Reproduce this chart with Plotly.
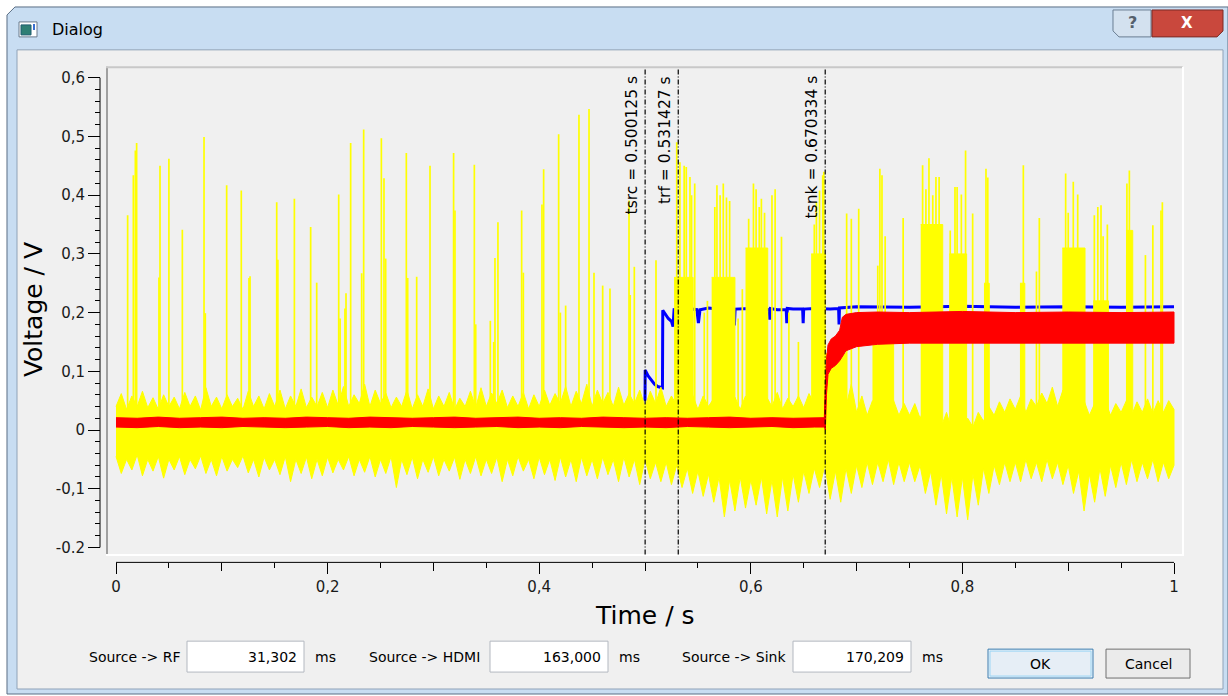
import plotly.graph_objects as go

W, H = 1228, 696
FONT = "DejaVu Sans"

# ---------------- data ----------------
x_tick_vals = [0.0, 0.2, 0.4, 0.6, 0.8, 1.0]
x_tick_text = ["0", "0,2", "0,4", "0,6", "0,8", "1"]
x_mid_vals = [0.1, 0.3, 0.5, 0.7, 0.9]
y_tick_vals = [0.6, 0.5, 0.4, 0.3, 0.2, 0.1, 0.0, -0.1, -0.2]
y_tick_text = ["0,6", "0,5", "0,4", "0,3", "0,2", "0,1", "0", "-0,1", "-0.2"]

marker_labels = ["tsrc = 0.500125 s", "trf = 0.531427 s", "tsnk = 0.670334 s"]
marker_times = [0.500125, 0.531427, 0.670334]

# yellow (RF) signal: envelope of the dense noise band, read every 5 ms
band_x = [0.000, 0.005, 0.010, 0.015, 0.020, 0.025, 0.030, 0.035, 0.040, 0.045,
          0.050, 0.055, 0.060, 0.065, 0.070, 0.075, 0.080, 0.085, 0.090, 0.095,
          0.100, 0.105, 0.110, 0.115, 0.120, 0.125, 0.130, 0.135, 0.140, 0.145,
          0.150, 0.155, 0.160, 0.165, 0.170, 0.175, 0.180, 0.185, 0.190, 0.195,
          0.200, 0.205, 0.210, 0.215, 0.220, 0.225, 0.230, 0.235, 0.240, 0.245,
          0.250, 0.255, 0.260, 0.265, 0.270, 0.275, 0.280, 0.285, 0.290, 0.295,
          0.300, 0.305, 0.310, 0.315, 0.320, 0.325, 0.330, 0.335, 0.340, 0.345,
          0.350, 0.355, 0.360, 0.365, 0.370, 0.375, 0.380, 0.385, 0.390, 0.395,
          0.400, 0.405, 0.410, 0.415, 0.420, 0.425, 0.430, 0.435, 0.440, 0.445,
          0.450, 0.455, 0.460, 0.465, 0.470, 0.475, 0.480, 0.485, 0.490, 0.495,
          0.500, 0.505, 0.510, 0.515, 0.520, 0.525, 0.530, 0.535, 0.540, 0.545,
          0.550, 0.555, 0.560, 0.565, 0.570, 0.575, 0.580, 0.585, 0.590, 0.595,
          0.600, 0.605, 0.610, 0.615, 0.620, 0.625, 0.630, 0.635, 0.640, 0.645,
          0.650, 0.655, 0.660, 0.665, 0.670, 0.675, 0.680, 0.685, 0.690, 0.695,
          0.700, 0.705, 0.710, 0.715, 0.720, 0.725, 0.730, 0.735, 0.740, 0.745,
          0.750, 0.755, 0.760, 0.765, 0.770, 0.775, 0.780, 0.785, 0.790, 0.795,
          0.800, 0.805, 0.810, 0.815, 0.820, 0.825, 0.830, 0.835, 0.840, 0.845,
          0.850, 0.855, 0.860, 0.865, 0.870, 0.875, 0.880, 0.885, 0.890, 0.895,
          0.900, 0.905, 0.910, 0.915, 0.920, 0.925, 0.930, 0.935, 0.940, 0.945,
          0.950, 0.955, 0.960, 0.965, 0.970, 0.975, 0.980, 0.985, 0.990, 0.995,
          1.000]
band_hi = [0.040, 0.062, 0.035, 0.058, 0.040, 0.066, 0.038, 0.055, 0.035, 0.060,
           0.040, 0.056, 0.036, 0.064, 0.040, 0.058, 0.034, 0.072, 0.040, 0.056,
           0.036, 0.060, 0.040, 0.054, 0.035, 0.066, 0.040, 0.058, 0.036, 0.062,
           0.040, 0.068, 0.036, 0.058, 0.040, 0.070, 0.038, 0.056, 0.040, 0.064,
           0.038, 0.068, 0.042, 0.074, 0.040, 0.060, 0.045, 0.078, 0.040, 0.068,
           0.045, 0.063, 0.038, 0.056, 0.040, 0.068, 0.036, 0.060, 0.040, 0.070,
           0.036, 0.058, 0.040, 0.064, 0.035, 0.054, 0.040, 0.066, 0.038, 0.072,
           0.040, 0.063, 0.045, 0.068, 0.038, 0.058, 0.040, 0.064, 0.036, 0.060,
           0.040, 0.068, 0.042, 0.062, 0.045, 0.074, 0.040, 0.066, 0.045, 0.078,
           0.040, 0.068, 0.045, 0.064, 0.040, 0.073, 0.042, 0.062, 0.045, 0.068,
           0.040, 0.066, 0.045, 0.073, 0.040, 0.058, 0.042, 0.068, 0.040, 0.060,
           0.035, 0.058, 0.040, 0.054, 0.035, 0.060, 0.038, 0.056, 0.035, 0.058,
           0.040, 0.060, 0.036, 0.056, 0.040, 0.064, 0.036, 0.054, 0.040, 0.058,
           0.038, 0.062, 0.045, 0.073, 0.050, 0.120, 0.060, 0.100, 0.040, 0.078,
           0.030, 0.058, 0.025, 0.050, 0.030, 0.053, 0.028, 0.050, 0.025, 0.045,
           0.025, 0.045, 0.020, 0.040, 0.015, 0.035, 0.005, 0.030, 0.000, 0.025,
           0.000, 0.020, 0.005, 0.030, 0.015, 0.040, 0.025, 0.048, 0.030, 0.053,
           0.035, 0.058, 0.030, 0.053, 0.040, 0.063, 0.045, 0.073, 0.040, 0.068,
           0.035, 0.058, 0.030, 0.050, 0.025, 0.045, 0.030, 0.050, 0.025, 0.045,
           0.030, 0.050, 0.025, 0.048, 0.030, 0.053, 0.028, 0.050, 0.030, 0.050,
           0.035]
band_lo = [-0.045, -0.074, -0.050, -0.068, -0.042, -0.078, -0.050, -0.070, -0.045, -0.082,
           -0.050, -0.068, -0.045, -0.076, -0.050, -0.066, -0.044, -0.074, -0.050, -0.078,
           -0.045, -0.070, -0.050, -0.064, -0.044, -0.073, -0.050, -0.080, -0.046, -0.068,
           -0.050, -0.076, -0.045, -0.088, -0.050, -0.074, -0.046, -0.083, -0.050, -0.078,
           -0.046, -0.073, -0.050, -0.068, -0.045, -0.078, -0.050, -0.072, -0.045, -0.080,
           -0.050, -0.074, -0.045, -0.098, -0.050, -0.076, -0.046, -0.083, -0.050, -0.072,
           -0.045, -0.078, -0.050, -0.070, -0.046, -0.084, -0.050, -0.074, -0.045, -0.078,
           -0.050, -0.074, -0.046, -0.088, -0.050, -0.078, -0.045, -0.070, -0.050, -0.083,
           -0.046, -0.076, -0.050, -0.086, -0.046, -0.080, -0.050, -0.088, -0.046, -0.078,
           -0.050, -0.083, -0.046, -0.076, -0.050, -0.088, -0.046, -0.080, -0.050, -0.093,
           -0.050, -0.083, -0.055, -0.088, -0.055, -0.093, -0.060, -0.098, -0.065, -0.108,
           -0.070, -0.113, -0.075, -0.123, -0.080, -0.148, -0.085, -0.138, -0.080, -0.133,
           -0.085, -0.128, -0.080, -0.143, -0.085, -0.148, -0.080, -0.138, -0.075, -0.123,
           -0.070, -0.108, -0.065, -0.098, -0.060, -0.118, -0.070, -0.123, -0.065, -0.108,
           -0.060, -0.098, -0.055, -0.093, -0.055, -0.088, -0.050, -0.093, -0.055, -0.088,
           -0.055, -0.088, -0.060, -0.108, -0.070, -0.128, -0.075, -0.143, -0.080, -0.148,
           -0.080, -0.153, -0.075, -0.128, -0.065, -0.108, -0.060, -0.093, -0.055, -0.088,
           -0.055, -0.088, -0.050, -0.083, -0.055, -0.088, -0.050, -0.083, -0.055, -0.093,
           -0.060, -0.108, -0.070, -0.138, -0.075, -0.123, -0.065, -0.113, -0.060, -0.098,
           -0.055, -0.093, -0.050, -0.088, -0.055, -0.083, -0.050, -0.088, -0.055, -0.083,
           -0.060]

# dense bursts of the yellow signal
burst_x0 = [0.5275, 0.563, 0.595, 0.657, 0.6705, 0.715, 0.7606, 0.7876, 0.8204, 0.8544, 0.8944, 0.9237, 0.9546]
burst_x1 = [0.5455, 0.585, 0.616, 0.6705, 0.690, 0.735, 0.7814, 0.8040, 0.8254, 0.8590, 0.9159, 0.9380, 0.9610]
burst_top = [0.26, 0.26, 0.31, 0.30, 0.13, 0.15, 0.35, 0.30, 0.25, 0.25, 0.31, 0.22, 0.34]

# isolated spikes of the yellow signal
spike_x = [0.011, 0.0164, 0.0183, 0.0195, 0.0406, 0.0416, 0.050, 0.0627, 0.0832, 0.0844,
           0.1046, 0.1184, 0.1257, 0.1267, 0.1519, 0.153, 0.1686, 0.184, 0.1897, 0.2105,
           0.2118, 0.2164, 0.2174, 0.2218, 0.2322, 0.2341, 0.2508, 0.2533, 0.2549, 0.2744,
           0.2757, 0.2842, 0.2968, 0.3191, 0.3204, 0.3387, 0.340, 0.3538, 0.357, 0.3582,
           0.361, 0.3834, 0.385, 0.4026, 0.4042, 0.4184, 0.420, 0.425, 0.4376, 0.4471,
           0.4518, 0.460, 0.4669, 0.4849, 0.486, 0.4899, 0.5104,
           0.530, 0.533, 0.537, 0.539, 0.5425, 0.544, 0.547, 0.556, 0.559,
           0.566, 0.568, 0.571, 0.574, 0.577, 0.580, 0.588, 0.592,
           0.598, 0.6025, 0.605, 0.608, 0.610, 0.613, 0.620, 0.623, 0.629, 0.636, 0.645,
           0.660, 0.662, 0.665, 0.668, 0.669,
           0.6906, 0.695, 0.702, 0.720, 0.722, 0.724, 0.727, 0.744,
           0.7624, 0.7655, 0.7684, 0.772, 0.775, 0.778,
           0.7885, 0.793, 0.795, 0.799, 0.803, 0.8097, 0.8223, 0.824, 0.8576, 0.870, 0.8727,
           0.8976, 0.900, 0.9048, 0.909, 0.913, 0.9247, 0.928, 0.931, 0.933, 0.937,
           0.9555, 0.9578, 0.973, 0.980, 0.9877, 0.989]
spike_top = [0.366, 0.434, 0.476, 0.489, 0.260, 0.450, 0.462, 0.341, 0.499, 0.199,
             0.417, 0.408, 0.259, 0.262, 0.388, 0.290, 0.394, 0.346, 0.251, 0.401,
             0.190, 0.207, 0.233, 0.489, 0.267, 0.512, 0.497, 0.429, 0.292, 0.472,
             0.259, 0.261, 0.450, 0.472, 0.374, 0.452, 0.180, 0.186, 0.150, 0.293,
             0.354, 0.374, 0.268, 0.384, 0.444, 0.504, 0.200, 0.212, 0.537, 0.547,
             0.268, 0.246, 0.241, 0.391, 0.230, 0.278, 0.289,
             0.490, 0.456, 0.450, 0.448, 0.431, 0.400, 0.420, 0.200, 0.220,
             0.380, 0.417, 0.400, 0.420, 0.396, 0.390, 0.190, 0.240,
             0.360, 0.420, 0.410, 0.380, 0.394, 0.370, 0.400, 0.410, 0.329, 0.200, 0.150,
             0.350, 0.388, 0.408, 0.434, 0.440,
             0.369, 0.360, 0.377, 0.280, 0.445, 0.434, 0.330, 0.361,
             0.451, 0.410, 0.463, 0.400, 0.431, 0.431,
             0.340, 0.414, 0.414, 0.401, 0.476, 0.369, 0.445, 0.430, 0.451, 0.270, 0.361,
             0.437, 0.370, 0.423, 0.401, 0.300, 0.366, 0.380, 0.383, 0.330, 0.350,
             0.420, 0.442, 0.298, 0.349, 0.374, 0.388]

# red (sink) signal band
red_x = [0.00, 0.02, 0.04, 0.06, 0.08, 0.10, 0.12, 0.14, 0.16, 0.18,
         0.20, 0.22, 0.24, 0.26, 0.28, 0.30, 0.32, 0.34, 0.36, 0.38,
         0.40, 0.42, 0.44, 0.46, 0.48, 0.50, 0.52, 0.54, 0.56, 0.58,
         0.60, 0.62, 0.64, 0.66, 0.6695, 0.6705, 0.6715, 0.673, 0.676, 0.680,
         0.684, 0.6865, 0.690, 0.700, 0.720, 0.750, 0.800, 0.850, 0.900, 0.950, 1.000]
red_hi = [0.021, 0.020, 0.022, 0.020, 0.021, 0.022, 0.020, 0.021, 0.020, 0.022,
          0.021, 0.020, 0.022, 0.021, 0.020, 0.021, 0.022, 0.020, 0.021, 0.022,
          0.020, 0.021, 0.020, 0.022, 0.021, 0.020, 0.021, 0.020, 0.021, 0.022,
          0.020, 0.021, 0.020, 0.021, 0.021, 0.080, 0.120, 0.145, 0.155, 0.160,
          0.170, 0.192, 0.197, 0.200, 0.201, 0.200, 0.202, 0.200, 0.201, 0.200, 0.201]
red_lo = [0.005, 0.004, 0.006, 0.004, 0.005, 0.004, 0.006, 0.005, 0.004, 0.005,
          0.006, 0.004, 0.005, 0.004, 0.006, 0.005, 0.004, 0.005, 0.006, 0.004,
          0.005, 0.004, 0.006, 0.005, 0.004, 0.005, 0.004, 0.006, 0.005, 0.004,
          0.005, 0.006, 0.004, 0.005, 0.005, 0.000, 0.060, 0.095, 0.105, 0.110,
          0.118, 0.125, 0.135, 0.142, 0.146, 0.148, 0.147, 0.148, 0.147, 0.148, 0.148]

# blue (source) signal
blue_x = [0.5000, 0.5002, 0.503, 0.506, 0.509, 0.512, 0.5155, 0.5165, 0.5168, 0.519,
          0.522, 0.525, 0.5265, 0.5275, 0.540, 0.549, 0.5505, 0.552, 0.560, 0.575,
          0.5838, 0.5845, 0.5852, 0.600, 0.6175, 0.618, 0.6185, 0.625, 0.6335, 0.634,
          0.6345, 0.640, 0.649, 0.6495, 0.650, 0.660, 0.675, 0.6830, 0.6834, 0.6838,
          0.700, 0.750, 0.800, 0.850, 0.900, 0.950, 1.000]
blue_y = [0.050, 0.102, 0.092, 0.085, 0.078, 0.074, 0.072, 0.072, 0.204, 0.198,
          0.190, 0.185, 0.176, 0.205, 0.207, 0.205, 0.182, 0.205, 0.208, 0.205,
          0.205, 0.178, 0.206, 0.207, 0.205, 0.188, 0.207, 0.205, 0.205, 0.182,
          0.207, 0.206, 0.206, 0.182, 0.206, 0.207, 0.206, 0.207, 0.180, 0.208,
          0.210, 0.209, 0.211, 0.209, 0.210, 0.209, 0.210]

field_labels = ["Source -> RF", "Source -> HDMI", "Source -> Sink"]
field_values = ["31,302", "163,000", "170,209"]
field_units = ["ms", "ms", "ms"]

# ---------------- helpers (pixel layout) ----------------
def fx(p):
    return p / W

def fy(p):
    return 1 - p / H

shapes = []
annotations = []

def rect(x0, y0, x1, y1, fill, line=None, lw=1, layer="below"):
    shapes.append(dict(type="rect", xref="paper", yref="paper",
                       x0=fx(x0), x1=fx(x1), y0=fy(y1), y1=fy(y0),
                       fillcolor=fill, layer=layer,
                       line=dict(color=line or fill, width=lw if line else 0)))

def seg(x0, y0, x1, y1, color, lw=1, layer="below"):
    shapes.append(dict(type="line", xref="paper", yref="paper",
                       x0=fx(x0), x1=fx(x1), y0=fy(y0), y1=fy(y1),
                       layer=layer, line=dict(color=color, width=lw)))

def path(points, fill, line, lw=1, layer="below"):
    d = "M " + " L ".join(f"{fx(a):.5f},{fy(b):.5f}" for a, b in points) + " Z"
    shapes.append(dict(type="path", xref="paper", yref="paper", path=d,
                       fillcolor=fill, layer=layer, line=dict(color=line, width=lw)))

def text(x, y, s, size=14, xanchor="left", color="#000000", angle=0, yanchor="middle", bold=False):
    annotations.append(dict(x=fx(x), y=fy(y), xref="paper", yref="paper", text=(f"<b>{s}</b>" if bold else s),
                            showarrow=False, xanchor=xanchor, yanchor=yanchor, textangle=angle,
                            font=dict(family=FONT, size=size, color=color)))

# ---------------- window chrome ----------------
path([(7, 696), (7, 15), (15, 7), (1228, 7), (1228, 696)], "#c8ddf2", "#5a6e85", 1)
rect(17, 50, 1223, 691, "#f0f0f0", "#8fa2b8", 1)
# title icon
rect(19, 22, 37, 37, "#ffffff", "#6b7b8c", 1)
rect(21, 25, 31, 35, "#2f7f74", "#1f5c70", 1)
rect(33, 24, 35, 30, "#3a6fd0")
text(50, 30, "Dialog", size=16)
# help / close buttons
path([(1113, 10), (1151, 10), (1151, 37), (1119, 37), (1113, 31)], "#d3e1ef", "#6a7d92", 1)
text(1132, 23, "?", size=16, xanchor="center", color="#55606c", bold=True)
path([(1152, 10), (1223, 10), (1223, 31), (1217, 37), (1152, 37)], "#c9483d", "#7a2a24", 1)
text(1187, 23, "X", size=15, xanchor="center", color="#ffffff", bold=True)

# ---------------- plot canvas frame ----------------
seg(107, 67, 107, 557, "#a0a0a0", 2, layer="above")
seg(106, 67.5, 1183, 67.5, "#c8c8c8", 2, layer="above")
seg(1183, 67, 1183, 557, "#ffffff", 2, layer="above")
seg(106, 556.5, 1184, 556.5, "#ffffff", 2, layer="above")
# scale backbones
seg(100, 78, 100, 549, "#000000", 1)
seg(116, 564, 1174, 564, "#000000", 1)

# marker lines and labels
for t, lab in zip(marker_times, marker_labels):
    shapes.append(dict(type="line", xref="x", yref="paper", x0=t, x1=t,
                       y0=fy(556), y1=fy(68), layer="above",
                       line=dict(color="#000000", width=1.2, dash="5px,2px,1px,2px")))
    annotations.append(dict(x=t, y=fy(74), xref="x", yref="paper", text=lab, showarrow=False,
                            xanchor="center", yanchor="top", xshift=-13, textangle=-90,
                            font=dict(family=FONT, size=15.5, color="#000000")))

# axis titles
text(645, 617, "Time / s", size=25, xanchor="center")
text(33, 311, "Voltage / V", size=25, xanchor="center", angle=-90)

# ---------------- bottom widgets ----------------
label_x = [87, 367, 680]
box_x0 = [187, 490, 793]
box_x1 = [304, 608, 911]
for lab, val, unit, lx, b0, b1 in zip(field_labels, field_values, field_units, label_x, box_x0, box_x1):
    text(lx, 659, lab, size=14)
    rect(b0, 643, b1, 674, "#ffffff", "#b3b8c0", 1)
    text(b1 - 5, 659, val, size=14, xanchor="right")
    text(b1 + 9, 659, unit, size=14)

rect(988, 651, 1093, 680, "#e6eef6", "#3c7fb1", 1)
rect(990, 653, 1091, 678, "rgba(0,0,0,0)", "#9bd6f5", 1)
text(1040, 666, "OK", size=14, xanchor="center")
rect(1106, 651, 1190, 680, "#ebebeb", "#707070", 1)
text(1148, 666, "Cancel", size=14, xanchor="center")

# ---------------- traces ----------------
fig = go.Figure()

fig.add_trace(go.Scatter(x=blue_x, y=blue_y, mode="lines",
                         line=dict(color="#0000ff", width=3), hoverinfo="skip"))

fig.add_trace(go.Scatter(x=band_x + band_x[::-1], y=band_hi + band_lo[::-1],
                         mode="lines", fill="toself", fillcolor="#ffff00",
                         line=dict(color="#ffff00", width=1), hoverinfo="skip"))

bx, by = [], []
for a, b, top in zip(burst_x0, burst_x1, burst_top):
    bx += [a, b, b, a, None]
    by += [0.0, 0.0, top, top, None]
fig.add_trace(go.Scatter(x=bx, y=by, mode="lines", fill="toself", fillcolor="#ffff00",
                         line=dict(color="#ffff00", width=1), hoverinfo="skip"))

sx, sy = [], []
for x, top in zip(spike_x, spike_top):
    sx += [x, x, None]
    sy += [0.0, top, None]
fig.add_trace(go.Scatter(x=sx, y=sy, mode="lines",
                         line=dict(color="#ffff00", width=1.7), hoverinfo="skip"))

fig.add_trace(go.Scatter(x=red_x + red_x[::-1], y=red_hi + red_lo[::-1],
                         mode="lines", fill="toself", fillcolor="#ff0000",
                         line=dict(color="#ff0000", width=1), hoverinfo="skip"))

# carrier for the medium-tick overlay axis
fig.add_trace(go.Scatter(x=[None], y=[None], xaxis="x2", yaxis="y", mode="lines", hoverinfo="skip"))

x_range = [-9 / 1058, 1 + 9 / 1058]
y_range = [-0.2 - 7 / 588.75, 0.6 + 11 / 588.75]
tickfont = dict(family=FONT, size=15, color="#1a1a1a")

fig.update_layout(
    width=W, height=H, margin=dict(l=0, r=0, t=0, b=0),
    paper_bgcolor="#ffffff", plot_bgcolor="rgba(0,0,0,0)",
    showlegend=False, shapes=shapes, annotations=annotations,
    xaxis=dict(domain=[fx(107), fx(1183)], range=x_range, anchor="free", position=fy(564),
               showline=False, showgrid=False, zeroline=False, fixedrange=True,
               tickmode="array", tickvals=x_tick_vals, ticktext=x_tick_text,
               ticks="outside", ticklen=11, tickwidth=1, tickcolor="#000000", tickfont=tickfont,
               minor=dict(ticks="outside", ticklen=5, tickwidth=1, tickcolor="#000000",
                          tickmode="linear", tick0=0, dtick=0.05, showgrid=False)),
    xaxis2=dict(overlaying="x", range=x_range, anchor="free", position=fy(564),
                showline=False, showgrid=False, zeroline=False, fixedrange=True,
                tickmode="array", tickvals=x_mid_vals, showticklabels=False,
                ticks="outside", ticklen=8, tickwidth=1, tickcolor="#000000"),
    yaxis=dict(domain=[fy(556), fy(67)], range=y_range, anchor="free", position=fx(100),
               showline=False, showgrid=False, zeroline=False, fixedrange=True,
               tickmode="array", tickvals=y_tick_vals, ticktext=y_tick_text,
               ticks="outside", ticklen=12, tickwidth=1, tickcolor="#000000", tickfont=tickfont,
               minor=dict(ticks="outside", ticklen=5, tickwidth=1, tickcolor="#000000",
                          tickmode="linear", tick0=0, dtick=0.02, showgrid=False)),
)

fig.write_html("out.html", config={"displayModeBar": False},
               post_script="document.body.style.margin='0px'; document.body.style.overflow='hidden';")
